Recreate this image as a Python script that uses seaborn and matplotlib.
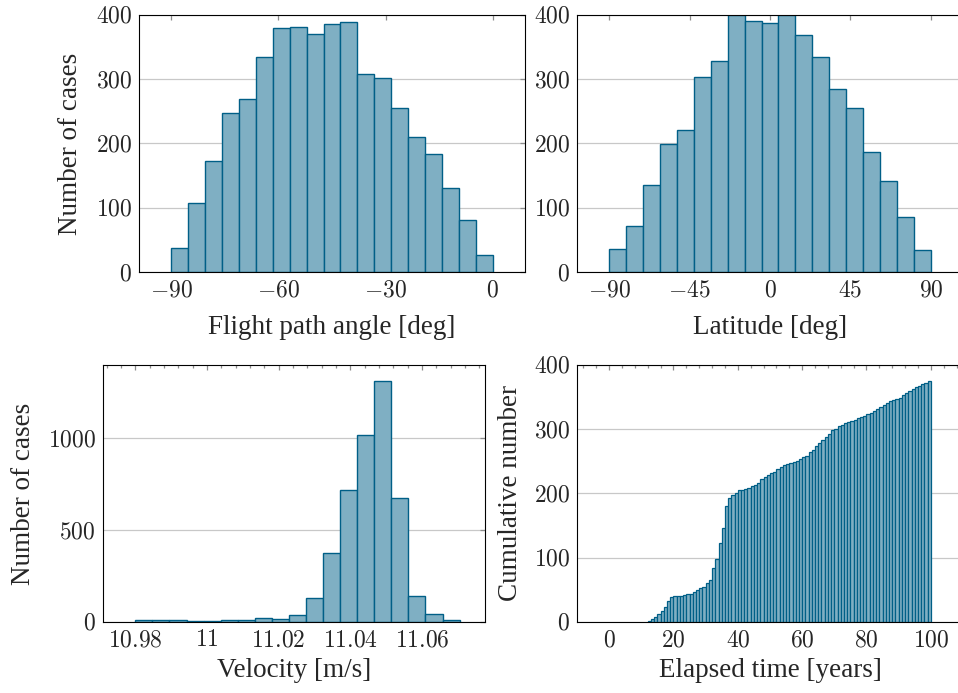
import numpy as np
import pandas as pd
import matplotlib
matplotlib.use("Agg")
import matplotlib.pyplot as plt
import seaborn as sns
from matplotlib.ticker import FuncFormatter, AutoMinorLocator, MultipleLocator

# histogram counts (19 equal bins each)
fpa_range = (-90, 0)
fpa_counts = [37, 107, 173, 248, 270, 335, 379, 382, 370, 386, 389, 308, 302, 255, 210, 183, 131, 81, 27]

lat_range = (-90, 90)
lat_counts = [36, 72, 135, 199, 221, 304, 329, 400, 391, 388, 400, 369, 334, 285, 256, 187, 141, 85, 35]

vel_range = (10.98, 11.0705)
vel_counts = [13, 8, 8, 6, 6, 9, 10, 20, 16, 40, 133, 378, 721, 1017, 1314, 677, 143, 45, 13]

# cumulative number per year, years 12..99
cum_years = list(range(12, 100))
cum_counts = [2, 4, 8, 12, 17, 23, 33, 39, 40, 40, 40, 42, 44, 44, 46, 49, 53, 55, 60, 65,
              84, 98, 123, 146, 181, 193, 198, 200, 205, 206, 207, 209, 211, 213, 217, 222,
              225, 228, 232, 234, 238, 241, 245, 246, 248, 249, 251, 253, 256, 259, 264, 268,
              274, 278, 283, 288, 293, 298, 301, 305, 307, 309, 311, 313, 315, 317, 319, 321,
              323, 325, 328, 331, 334, 337, 340, 344, 346, 347, 349, 353, 357, 359, 362, 365,
              367, 370, 372, 375]

edge_col = "#005F87"
fill_col = "#7FAFC3"

sns.set_style("white")
plt.rcParams["font.family"] = ["Liberation Serif", "DejaVu Serif"]
plt.rcParams["mathtext.fontset"] = "cm"

fig = plt.figure(figsize=(9.58, 6.93), dpi=100)
ax_tl = fig.add_axes([0.1451, 0.6075, 0.4029, 0.3709])
ax_tr = fig.add_axes([0.6023, 0.6075, 0.4029, 0.3709])
ax_bl = fig.add_axes([0.1072, 0.1025, 0.3995, 0.3709])
ax_br = fig.add_axes([0.6023, 0.1025, 0.4029, 0.3709])


def hist(ax, lo, hi, counts, lw=1.0):
    edges = np.linspace(lo, hi, len(counts) + 1)
    centers = (edges[:-1] + edges[1:]) / 2
    df = pd.DataFrame({"x": centers, "n": counts})
    sns.histplot(data=df, x="x", weights="n", bins=len(counts), binrange=(lo, hi), ax=ax,
                 color=fill_col, edgecolor=edge_col, alpha=1, linewidth=lw, zorder=3)


hist(ax_tl, *fpa_range, fpa_counts)
hist(ax_tr, *lat_range, lat_counts)
hist(ax_bl, *vel_range, vel_counts)
hist(ax_br, cum_years[0], cum_years[-1] + 1, cum_counts, lw=0.9)

math_fmt = FuncFormatter(lambda v, p: f"${v:g}$")

for ax in [ax_tl, ax_tr, ax_bl, ax_br]:
    ax.set_ylabel("")
    ax.set_xlabel("")
    for s in ax.spines.values():
        s.set_color("black")
        s.set_linewidth(0.8)
        s.set_zorder(5)
    ax.grid(axis="y", color="#c8c8c8", linewidth=0.9, zorder=0)
    ax.grid(axis="x", visible=False)
    ax.tick_params(which="both", direction="in", top=True, right=True, color="#8c8c8c",
                   labelsize=17, width=0.9)
    ax.tick_params(which="major", length=3.5)
    ax.tick_params(which="minor", length=2.2)
    ax.tick_params(axis="x", pad=6)
    ax.tick_params(axis="y", pad=5)
    ax.xaxis.set_major_formatter(math_fmt)
    ax.yaxis.set_major_formatter(math_fmt)

ax_tl.set_xlim(-99, 9)
ax_tl.set_ylim(0, 400)
ax_tl.xaxis.set_major_locator(MultipleLocator(30))
ax_tl.yaxis.set_major_locator(MultipleLocator(100))

ax_tr.set_xlim(-108, 108)
ax_tr.set_ylim(0, 400)
ax_tr.xaxis.set_major_locator(MultipleLocator(45))
ax_tr.yaxis.set_major_locator(MultipleLocator(100))

ax_bl.set_xlim(10.9709, 11.0777)
ax_bl.set_ylim(0, 1400)
ax_bl.set_xticks([10.98, 11.0, 11.02, 11.04, 11.06])
ax_bl.set_xticklabels(["$10.98$", "$11$", "$11.02$", "$11.04$", "$11.06$"])
ax_bl.xaxis.set_minor_locator(AutoMinorLocator(5))
ax_bl.yaxis.set_major_locator(MultipleLocator(500))

ax_br.set_xlim(-10, 110)
ax_br.set_ylim(0, 400)
ax_br.xaxis.set_major_locator(MultipleLocator(20))
ax_br.xaxis.set_minor_locator(AutoMinorLocator(5))
ax_br.yaxis.set_major_locator(MultipleLocator(100))

lab = dict(fontsize=19.5)
ax_tl.set_xlabel("Flight path angle [deg]", labelpad=10, **lab)
ax_tl.set_ylabel("Number of cases", labelpad=9, **lab)
ax_tr.set_xlabel("Latitude [deg]", labelpad=10, **lab)
ax_bl.set_xlabel("Velocity [m/s]", labelpad=5, **lab)
ax_bl.set_ylabel("Number of cases", labelpad=8, **lab)
ax_br.set_xlabel("Elapsed time [years]", labelpad=5, **lab)
ax_br.set_ylabel("Cumulative number", labelpad=8, **lab)

fig.savefig("out.png", dpi=100)
